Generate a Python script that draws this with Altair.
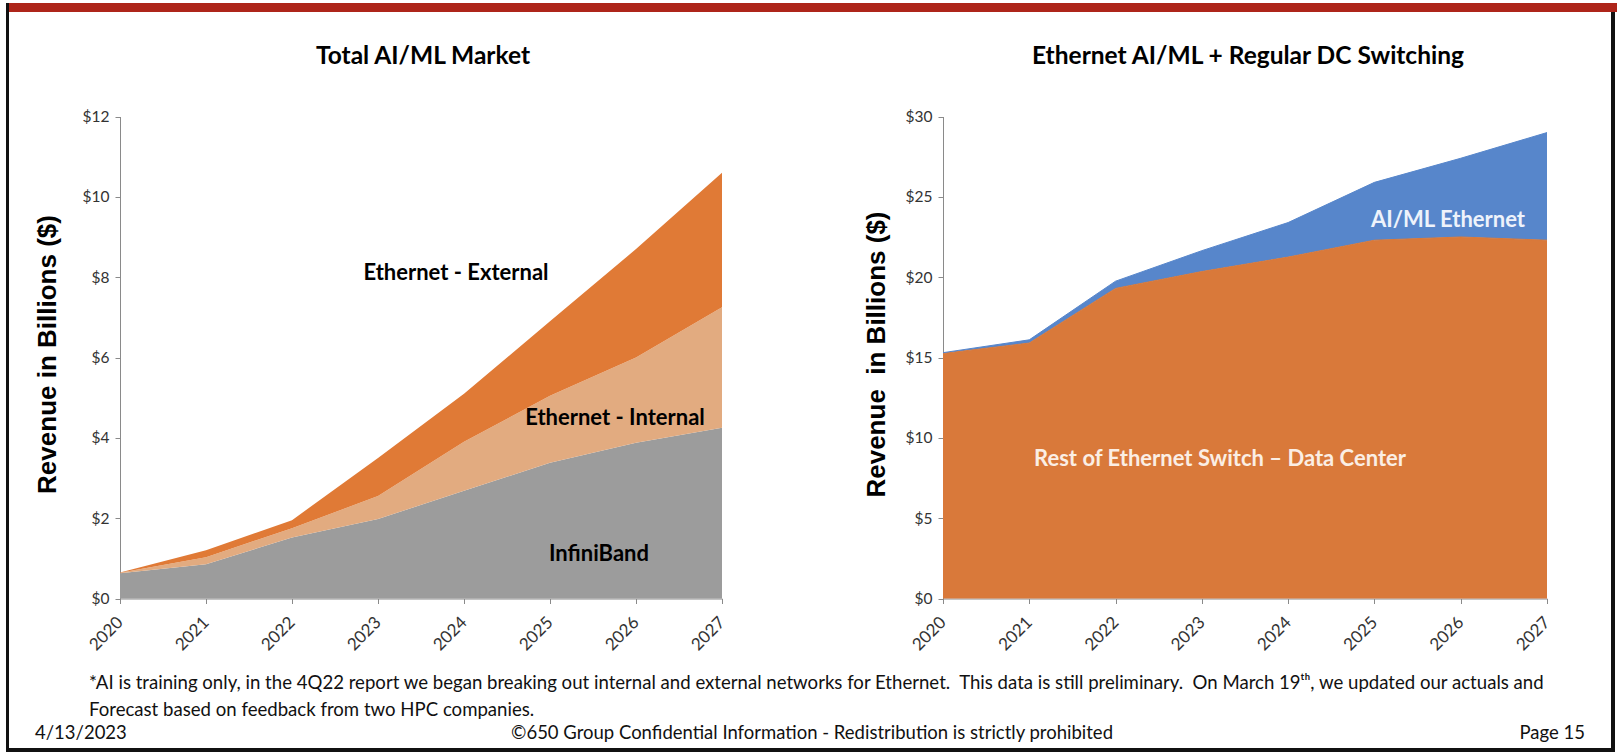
import altair as alt
import pandas as pd

YEARS = [2020, 2021, 2022, 2023, 2024, 2025, 2026, 2027]

# Total AI/ML market, revenue per segment in $B (stacked)
INFINIBAND = [0.63, 0.85, 1.52, 1.98, 2.68, 3.38, 3.88, 4.25]
ETH_INTERNAL = [0.01, 0.18, 0.23, 0.57, 1.22, 1.67, 2.12, 3.00]
ETH_EXTERNAL = [0.01, 0.17, 0.20, 0.95, 1.20, 1.85, 2.70, 3.35]
LEFT_SEGMENTS = ["InfiniBand", "Ethernet - Internal", "Ethernet - External"]
LEFT_COLORS = ["#9c9c9c", "#e2ab80", "#e07a36"]
LEFT_TICKS = [0, 2, 4, 6, 8, 10, 12]

# Ethernet AI/ML + regular DC switching, revenue per segment in $B (stacked)
DC_REST = [15.25, 15.90, 19.30, 20.35, 21.25, 22.30, 22.50, 22.30]
DC_AIML = [0.05, 0.20, 0.45, 1.30, 2.15, 3.60, 4.90, 6.70]
RIGHT_SEGMENTS = ["Rest of Ethernet Switch – Data Center", "AI/ML Ethernet"]
RIGHT_COLORS = ["#d9793a", "#5786cb"]
RIGHT_TICKS = [0, 5, 10, 15, 20, 25, 30]

W, H = 1617, 754
FONT = "Lato"
AXIS_FONT = "Liberation Sans"
NBSP = "\u00a0"


def long_table(segments, series):
    rows = []
    for k, (seg, vals) in enumerate(zip(segments, series)):
        for yr, v in zip(YEARS, vals):
            rows.append({"year": yr, "value": v, "segment": seg, "order": k})
    return pd.DataFrame(rows)


left_df = long_table(LEFT_SEGMENTS, [INFINIBAND, ETH_INTERNAL, ETH_EXTERNAL])
right_df = long_table(RIGHT_SEGMENTS, [DC_REST, DC_AIML])

BASE_Y = 598.5
TOP_Y = 116.5


def x_axis():
    return alt.Axis(
        values=YEARS, format="d", orient="bottom", offset=BASE_Y - H,
        labelAngle=-45, labelAlign="right", labelBaseline="middle",
        labelFont=FONT, labelFontSize=17, labelColor="#333333", labelPadding=16,
        tickSize=5, tickColor="#8a8a8a", domainColor="#8a8a8a",
        grid=False, title=None,
    )


def y_axis(ticks, left_px, title, title_x):
    return alt.Axis(
        values=ticks, orient="left", offset=-left_px,
        labelExpr="'$' + datum.value",
        labelFont=FONT, labelFontSize=15.5, labelColor="#333333", labelPadding=6,
        tickSize=5, tickColor="#8a8a8a", domainColor="#8a8a8a", grid=False,
        title=title, titleFont=AXIS_FONT, titleFontSize=26, titleFontWeight="bold",
        titleColor="#000000", titleAngle=270, titleAlign="center",
        titleBaseline="middle", titleX=title_x - left_px, titleY=354,
    )


left_area = alt.Chart(left_df).mark_area(opacity=1).encode(
    x=alt.X("year:Q", scale=alt.Scale(domain=[2020, 2027], range=[120, 722],
                                      nice=False, zero=False), axis=x_axis()),
    y=alt.Y("value:Q", stack="zero",
            scale=alt.Scale(domain=[0, 12], range=[BASE_Y, TOP_Y], nice=False),
            axis=y_axis(LEFT_TICKS, 120, "Revenue in Billions ($)", 47)),
    color=alt.Color("segment:N", scale=alt.Scale(domain=LEFT_SEGMENTS, range=LEFT_COLORS),
                    legend=None),
    order=alt.Order("order:Q"),
)

right_area = alt.Chart(right_df).mark_area(
    opacity=1, line={"color": "#3b3f58", "strokeWidth": 1}
).encode(
    x=alt.X("year:Q", scale=alt.Scale(domain=[2020, 2027], range=[943, 1547],
                                      nice=False, zero=False), axis=x_axis()),
    y=alt.Y("value:Q", stack="zero",
            scale=alt.Scale(domain=[0, 30], range=[BASE_Y, TOP_Y], nice=False),
            axis=y_axis(RIGHT_TICKS, 943, "Revenue" + NBSP + " in Billions ($)", 876)),
    color=alt.Color("segment:N", scale=alt.Scale(domain=RIGHT_SEGMENTS, range=RIGHT_COLORS),
                    legend=None),
    order=alt.Order("order:Q"),
)


def label(text, x, y, size, color="#000000", weight="bold", align="center"):
    return alt.Chart(pd.DataFrame({"t": [text]})).mark_text(
        align=align, baseline="middle", font=FONT, fontSize=size,
        fontWeight=weight, color=color,
    ).encode(text="t:N", x=alt.value(x), y=alt.value(y))


def band(x0, x1, y0, y1, color):
    return alt.Chart(pd.DataFrame({"k": [0]})).mark_rect(color=color).encode(
        x=alt.value(x0), x2=alt.value(x1), y=alt.value(y0), y2=alt.value(y1)
    )


FOOTNOTE_1 = ("*AI is training only, in the 4Q22 report we began breaking out internal and "
              "external networks for Ethernet." + NBSP + " This data is still preliminary."
              + NBSP + " On March 19ᵗʰ, we updated our actuals and")
FOOTNOTE_2 = "Forecast based on feedback from two HPC companies."

texts = [
    label("Total AI/ML Market", 423, 57, 24.5),
    label("Ethernet AI/ML + Regular DC Switching", 1248, 57, 24.5),
    label("Ethernet - External", 456, 273, 22),
    label("Ethernet - Internal", 615, 418, 22),
    label("InfiniBand", 599, 554, 22),
    label("AI/ML Ethernet", 1448, 220, 22, color="#eef3fb"),
    label("Rest of Ethernet Switch – Data Center", 1220, 459, 22, color="#fbeee4"),
    label(FOOTNOTE_1, 89, 683, 18.6, color="#111111", weight="normal", align="left"),
    label(FOOTNOTE_2, 89, 710, 18.6, color="#111111", weight="normal", align="left"),
    label("4/13/2023", 35, 733, 18.5, color="#111111", weight="normal", align="left"),
    label("©650 Group Confidential Information - Redistribution is strictly prohibited",
          812, 733, 18.5, color="#111111", weight="normal"),
    label("Page 15", 1585, 733, 18.5, color="#111111", weight="normal", align="right"),
]

frame = [
    band(6, W, 3, 12, "#ae251a"),
    band(6, 9, 3, 752, "#111111"),
    band(1611, 1615, 12, 752, "#111111"),
    band(6, 1615, 748, 752, "#111111"),
]

chart = alt.layer(left_area, right_area, *texts, *frame).resolve_scale(
    x="independent", y="independent", color="independent"
).properties(
    width=W, height=H, padding=0, autosize=alt.AutoSizeParams(type="none"),
    background="#ffffff",
).configure_view(stroke=None)

chart.save("out.html", embed_options={"renderer": "svg", "actions": False})
